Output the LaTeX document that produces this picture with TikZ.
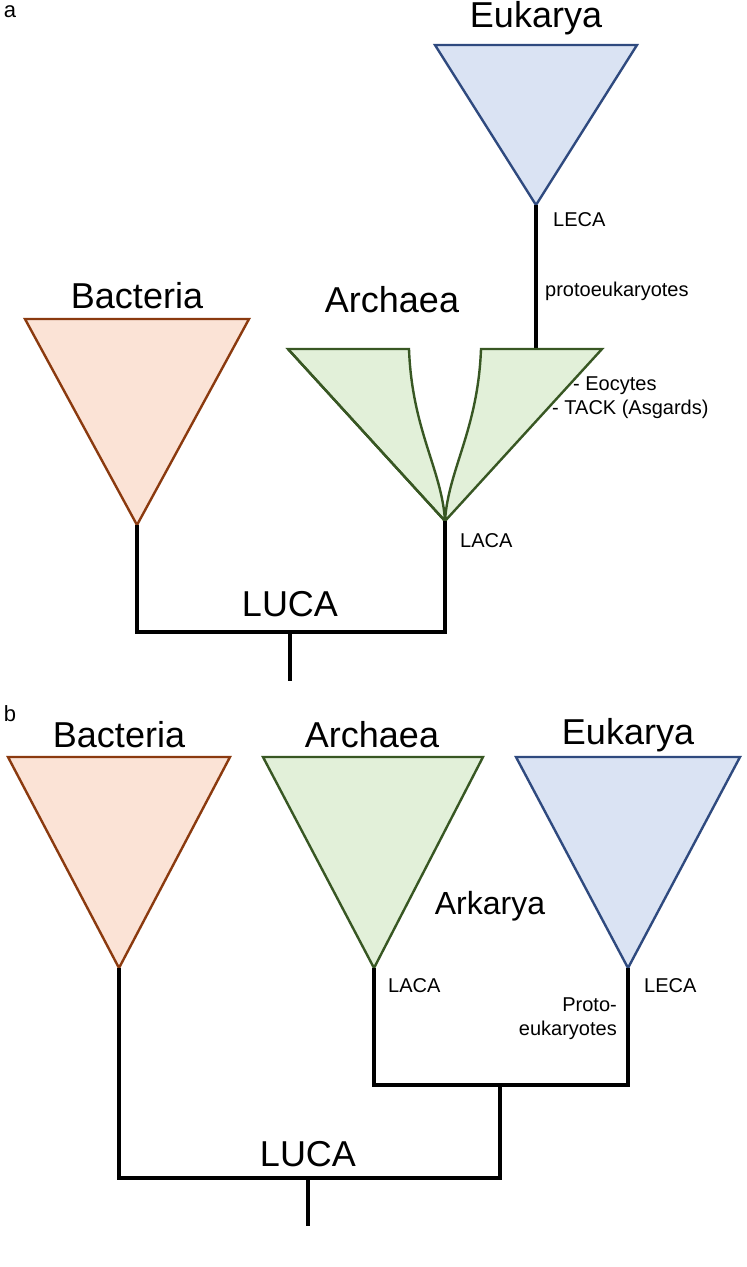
\documentclass[tikz,border=0pt]{standalone}
\usepackage{fontspec}
\setmainfont{Liberation Sans}
\definecolor{bacF}{HTML}{FBE3D6}\definecolor{bacD}{HTML}{8B3A0F}
\definecolor{arcF}{HTML}{E2F0D9}\definecolor{arcD}{HTML}{385723}
\definecolor{eukF}{HTML}{DAE3F3}\definecolor{eukD}{HTML}{2F4A7F}
\begin{document}
\begin{tikzpicture}[x=1pt,y=-1pt,
  tri/.style={line width=2.4pt,line join=miter},
  stem/.style={line width=4pt,line join=miter},
  big/.style={font=\fontsize{36}{40}\selectfont,inner sep=0pt},
  small/.style={font=\fontsize{20}{24}\selectfont,inner sep=0pt,anchor=west},
  lab/.style={font=\fontsize{22}{24}\selectfont,inner sep=0pt}]
\useasboundingbox (0,0) rectangle (747,1267);
\node[lab] at (10,12) {a};
\node[lab] at (10,714) {b};
% panel a
\draw[tri,draw=eukD,fill=eukF] (435,45) -- (637,45) -- (536,205) -- cycle;
\node[big] at (536,18) {Eukarya};
\coordinate (ea) at (536,205);
\coordinate (eb) at (536,349);
\draw[stem] (ea) -- (eb);
\node[small] at (553,220) {LECA};
\node[small] at (545,291) {protoeukaryotes};
\draw[tri,draw=bacD,fill=bacF] (25,319) -- (249,319) -- (137,525) -- cycle;
\node[big] at (137,296) {Bacteria};
\draw[tri,draw=arcD,fill=arcF] (288,349) -- (409,349) .. controls (412,430) and (442,470) .. (445,521)
  .. controls (448,470) and (478,430) .. (481,349) -- (602,349) -- (445,521) -- cycle;
\draw[tri,draw=arcD] (288,349) -- (445,521);
\node[big] at (392,300) {Archaea};
\node[small] at (573,386) {- Eocytes};
\node[small] at (552,409) {- TACK (Asgards)};
\node[small] at (460,541) {LACA};
\coordinate (ba) at (137,525);
\coordinate (aa) at (445,521);
\draw[stem] (ba) -- (137,632) -- (445,632) -- (aa);
\node[big] at (290,604) {LUCA};
\coordinate (ra) at (290,632);
\coordinate (rb) at (290,681);
\draw[stem] (ra) -- (rb);
% panel b
\draw[tri,draw=bacD,fill=bacF] (8,757) -- (230,757) -- (119,968) -- cycle;
\node[big] at (119,735) {Bacteria};
\draw[tri,draw=arcD,fill=arcF] (263,757) -- (483,757) -- (374,968) -- cycle;
\node[big] at (372,735) {Archaea};
\draw[tri,draw=eukD,fill=eukF] (516,757) -- (740,757) -- (628,968) -- cycle;
\node[big] at (628,735) {Eukarya};
\node[big,font=\fontsize{32}{36}\selectfont] at (490,906) {Arkarya};
\node[small] at (388,986) {LACA};
\node[small] at (644,986) {LECA};
\node[font=\fontsize{20}{24}\selectfont,inner sep=0pt,align=right,anchor=north east] at (617,998) {Proto-\\eukaryotes};
\draw[stem] (374,968) -- (374,1085) -- (628,1085) -- (628,968);
\draw[stem] (119,968) -- (119,1178) -- (500,1178) -- (500,1085);
\node[big] at (308,1154) {LUCA};
\draw[stem] (308,1178) -- (308,1226);
\end{tikzpicture}
\end{document}
